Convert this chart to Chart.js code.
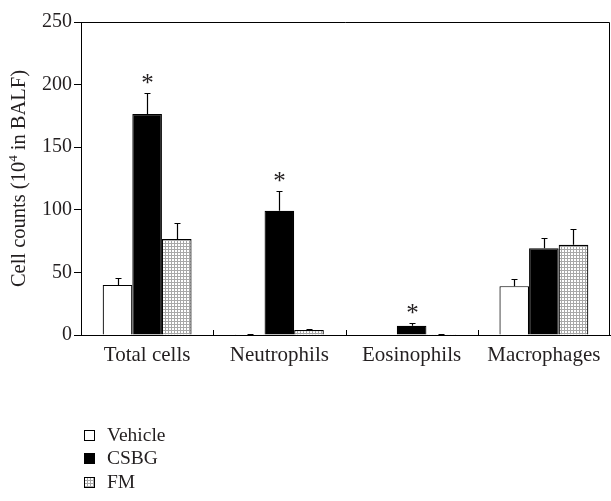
<!DOCTYPE html>
<html><head><meta charset="utf-8">
<script src="https://cdn.jsdelivr.net/npm/chart.js@4/dist/chart.umd.min.js"></script>
<style>html,body{margin:0;padding:0;background:#fff;}#wrap{width:611px;height:501px;position:relative;}</style>
</head><body><div id="wrap"><canvas id="c" width="611" height="501"></canvas></div>
<script>
// Cell counts in BALF (x10^4), mean with upper SE bars
const categories = ['Total cells', 'Neutrophils', 'Eosinophils', 'Macrophages'];
const groupNames = ['Vehicle', 'CSBG', 'FM'];
const vehicle = [40, 0.6, 0, 39];
const vehicleErr = [5.3, 0.3, 0, 5.6];
const csbg = [176.5, 99.3, 7.4, 69.2];
const csbgErr = [16.5, 16, 2.4, 8.5];
const fm = [76.7, 4, 0.6, 72.1];
const fmErr = [12.5, 0.8, 0.3, 12.6];
const csbgSignificant = [true, true, true, false];
const yTicks = [0, 50, 100, 150, 200, 250];

const FONT = '"Liberation Serif", "Times New Roman", serif';
const INK = '#231f20';

const canvas = document.getElementById('c');
const ctx = canvas.getContext('2d');

function makeGridPattern() {
  const p = document.createElement('canvas');
  p.width = 3; p.height = 3;
  const g = p.getContext('2d');
  g.fillStyle = '#ffffff'; g.fillRect(0, 0, 3, 3);
  g.fillStyle = '#a8a8a8';
  g.fillRect(0, 0, 3, 1);
  g.fillRect(0, 0, 1, 3);
  return ctx.createPattern(p, 'repeat');
}
const fmFill = makeGridPattern();

const errors = [vehicleErr, csbgErr, fmErr];

const decorations = {
  id: 'decorations',
  afterDatasetsDraw(chart) {
    const c = chart.ctx;
    const area = chart.chartArea;
    const xs = chart.scales.x, ys = chart.scales.y;
    c.save();
    c.strokeStyle = '#000';
    c.lineWidth = 1;
    // frame: top and right edges
    c.beginPath();
    c.moveTo(area.left, area.top + 0.5);
    c.lineTo(area.right - 0.5, area.top + 0.5);
    c.lineTo(area.right - 0.5, area.bottom);
    c.stroke();
    // inward ticks at category boundaries
    const n = categories.length;
    for (let i = 1; i < n; i++) {
      const bx = Math.round((xs.getPixelForValue(i - 1) + xs.getPixelForValue(i)) / 2) + 0.5;
      c.beginPath();
      c.moveTo(bx, area.bottom);
      c.lineTo(bx, area.bottom - 5);
      c.stroke();
    }
    // error bars (upper only)
    chart.data.datasets.forEach((ds, di) => {
      const meta = chart.getDatasetMeta(di);
      meta.data.forEach((el, i) => {
        const e = errors[di][i];
        if (!e) return;
        const x = Math.round(el.x) + 0.5;
        const yTop = Math.round(ys.getPixelForValue(ds.data[i] + e)) + 0.5;
        c.lineWidth = 1.2;
        c.beginPath();
        c.moveTo(x, el.y);
        c.lineTo(x, yTop);
        c.moveTo(x - 3, yTop);
        c.lineTo(x + 3, yTop);
        c.stroke();
        if (di === 1 && csbgSignificant[i]) {
          c.fillStyle = INK;
          c.font = '25px ' + FONT;
          c.textAlign = 'center';
          c.textBaseline = 'alphabetic';
          c.fillText('*', x, yTop - 3);
        }
      });
    });
    c.restore();
  },
  afterDraw(chart) {
    const c = chart.ctx;
    const area = chart.chartArea;
    c.save();
    // y axis title with superscript
    c.fillStyle = INK;
    c.textBaseline = 'middle';
    c.textAlign = 'left';
    const big = '20.5px ' + FONT, small = '13px ' + FONT;
    const p1 = 'Cell counts (10', p2 = '4', p3 = ' in BALF)';
    c.font = big; const w1 = c.measureText(p1).width, w3 = c.measureText(p3).width;
    c.font = small; const w2 = c.measureText(p2).width;
    const total = w1 + w2 + w3;
    c.translate(20, (area.top + area.bottom) / 2);
    c.rotate(-Math.PI / 2);
    let x = -total / 2;
    c.font = big; c.fillText(p1, x, 0); x += w1;
    c.font = small; c.fillText(p2, x, -6); x += w2;
    c.font = big; c.fillText(p3, x, 0);
    c.restore();

    // legend, stacked vertically
    c.save();
    const fills = chart.data.datasets.map(d => d.backgroundColor);
    const rowY = [435, 458, 482];
    groupNames.forEach((name, i) => {
      const y = rowY[i];
      c.fillStyle = fills[i];
      c.fillRect(84, y - 5, 11, 11);
      c.strokeStyle = '#000';
      c.lineWidth = 1;
      c.strokeRect(84.5, y - 4.5, 10, 10);
      c.fillStyle = INK;
      c.font = '19.5px ' + FONT;
      c.textAlign = 'left';
      c.textBaseline = 'middle';
      c.fillText(name, 107, y + 1);
    });
    c.restore();
  }
};

new Chart(canvas, {
  type: 'bar',
  data: {
    labels: categories,
    datasets: [
      { label: groupNames[0], data: vehicle, backgroundColor: '#ffffff', borderColor: '#000', borderWidth: 1.2 },
      { label: groupNames[1], data: csbg, backgroundColor: '#000000', borderColor: '#000', borderWidth: 1.2 },
      { label: groupNames[2], data: fm, backgroundColor: fmFill, borderColor: '#000', borderWidth: 1.2 }
    ]
  },
  options: {
    responsive: false,
    animation: false,
    devicePixelRatio: 1,
    layout: { padding: { top: 22, right: 1, left: 0, bottom: 0 } },
    datasets: { bar: { categoryPercentage: 0.672, barPercentage: 1, borderSkipped: 'bottom' } },
    plugins: { legend: { display: false }, tooltip: { enabled: false } },
    scales: {
      x: {
        grid: { display: false },
        border: { display: true, color: '#000', width: 1 },
        ticks: { color: INK, font: { family: FONT, size: 21 }, padding: 0, maxRotation: 0 },
        afterFit(s) { s.height = 166; }
      },
      y: {
        min: 0, max: 250,
        afterBuildTicks(s) { s.ticks = yTicks.map(v => ({ value: v })); },
        grid: { drawOnChartArea: false, drawTicks: true, tickLength: 7, color: '#000' },
        border: { display: true, color: '#000', width: 1 },
        ticks: { color: INK, font: { family: FONT, size: 20 }, padding: 2 },
        afterFit(s) { s.width = 81; }
      }
    }
  },
  plugins: [decorations]
});
</script>
</body></html>
